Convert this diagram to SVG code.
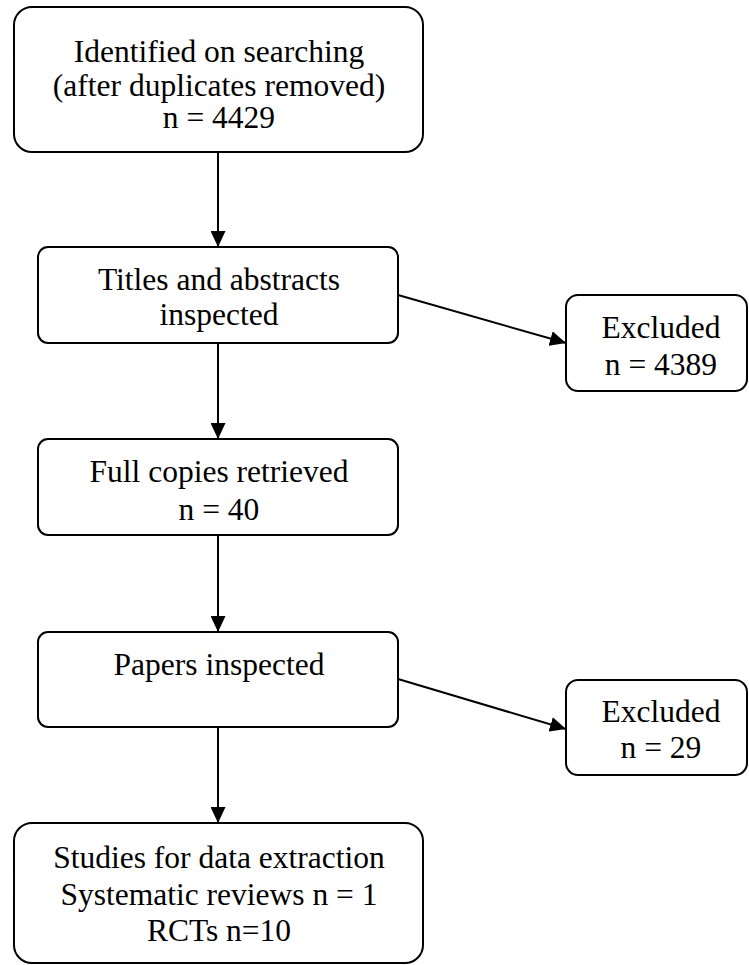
<svg xmlns="http://www.w3.org/2000/svg" width="749" height="965" viewBox="0 0 749 965">
<style>
.box{fill:#fff;stroke:#000;stroke-width:2}
.t{font-family:'Liberation Serif','DejaVu Serif',serif;font-size:31.5px;fill:#000;text-anchor:middle}
.c{stroke:#000;stroke-width:2;fill:none;marker-end:url(#ah)}
</style>
<defs>
<marker id="ah" markerUnits="userSpaceOnUse" markerWidth="16" markerHeight="15" viewBox="0 0 16 15" refX="16" refY="7.5" orient="auto">
<path d="M0,0 L16,7.5 L0,15 Z" fill="#000"/>
</marker>
</defs>
<rect width="749" height="965" fill="#fff"/>
<g id="connectors">
<line class="c" x1="218" y1="152" x2="218" y2="247"/>
<line class="c" x1="218" y1="343" x2="218" y2="439"/>
<line class="c" x1="218" y1="535" x2="218" y2="632"/>
<line class="c" x1="218" y1="727" x2="218" y2="823"/>
<line class="c" x1="398" y1="295" x2="566" y2="343"/>
<line class="c" x1="398" y1="679" x2="566" y2="729"/>
</g>
<g id="identified">
<rect class="box" x="14" y="7" width="409" height="145" rx="18"/>
<text class="t" x="219" y="62">Identified on searching</text>
<text class="t" x="219" y="96">(after duplicates removed)</text>
<text class="t" x="219" y="128">n = 4429</text>
</g>
<g id="titles">
<rect class="box" x="38" y="247" width="360" height="96" rx="10"/>
<text class="t" x="219" y="290">Titles and abstracts</text>
<text class="t" x="219" y="325">inspected</text>
</g>
<g id="excluded1">
<rect class="box" x="566" y="295" width="181" height="96" rx="12"/>
<text class="t" x="661" y="338">Excluded</text>
<text class="t" x="661" y="375">n = 4389</text>
</g>
<g id="fullcopies">
<rect class="box" x="38" y="439" width="360" height="96" rx="10"/>
<text class="t" x="219" y="482">Full copies retrieved</text>
<text class="t" x="219" y="520">n = 40</text>
</g>
<g id="papers">
<rect class="box" x="38" y="632" width="360" height="95" rx="10"/>
<text class="t" x="219" y="675">Papers inspected</text>
</g>
<g id="excluded2">
<rect class="box" x="566" y="680" width="181" height="95" rx="12"/>
<text class="t" x="661" y="722">Excluded</text>
<text class="t" x="661" y="758">n = 29</text>
</g>
<g id="studies">
<rect class="box" x="14" y="823" width="409" height="140" rx="18"/>
<text class="t" x="219" y="868">Studies for data extraction</text>
<text class="t" x="219" y="905">Systematic reviews n = 1</text>
<text class="t" x="219" y="941">RCTs n=10</text>
</g>
</svg>
